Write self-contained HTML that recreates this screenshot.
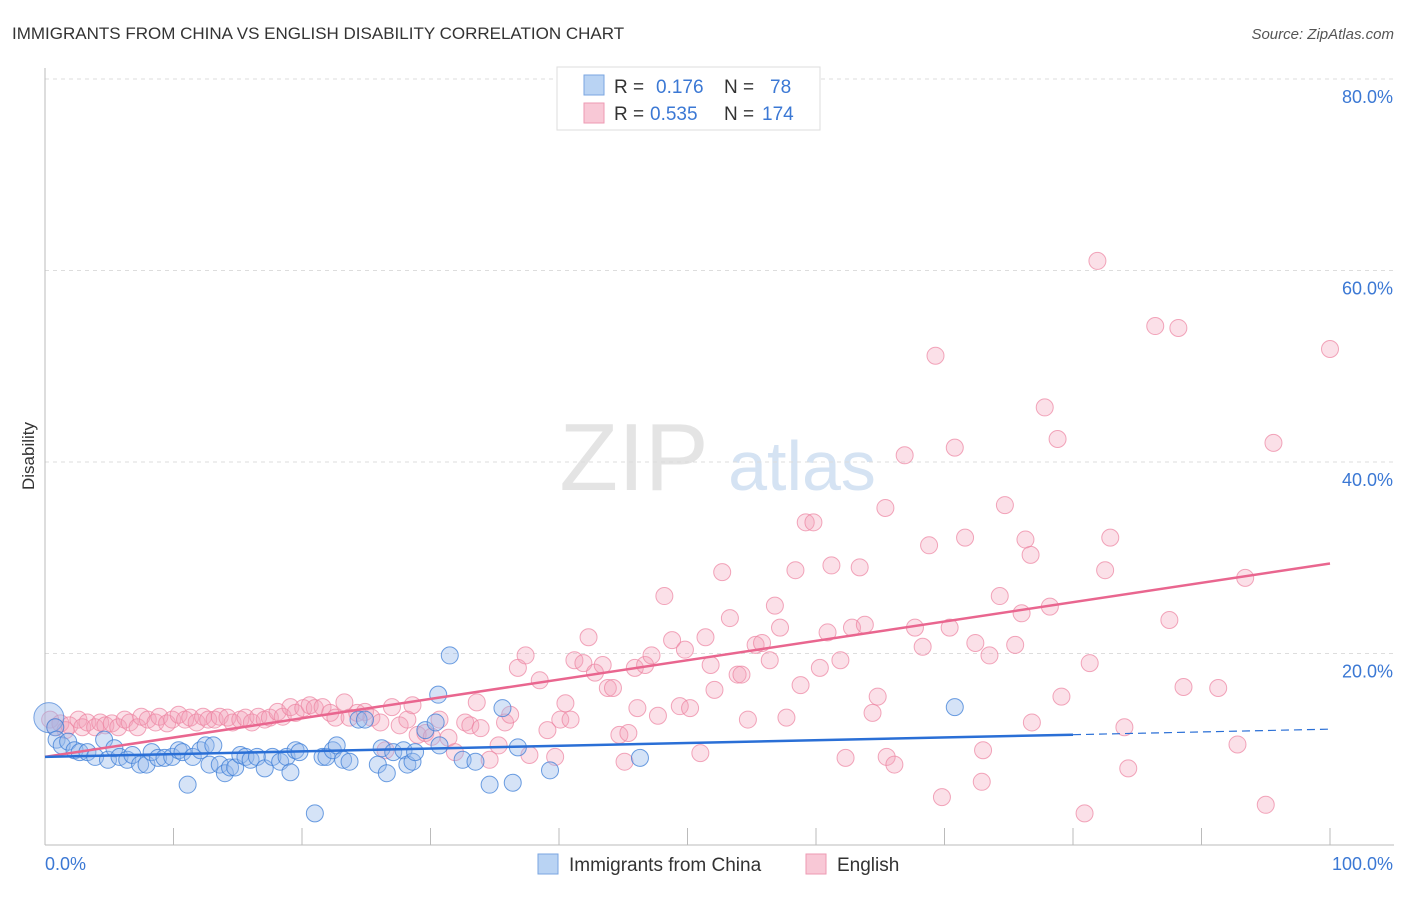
<!DOCTYPE html>
<html><head><meta charset="utf-8"><style>
body{margin:0;background:#fff;font-family:"Liberation Sans",sans-serif}
svg text{font-family:"Liberation Sans",sans-serif}
</style></head><body>
<svg width="1406" height="892" viewBox="0 0 1406 892" xmlns="http://www.w3.org/2000/svg" id="chart">
<text x="12" y="39" font-size="17" fill="#333">IMMIGRANTS FROM CHINA VS ENGLISH DISABILITY CORRELATION CHART</text>
<text x="1394" y="39" font-size="15" fill="#555" font-style="italic" text-anchor="end">Source: ZipAtlas.com</text>
<text x="634" y="490" font-size="96" fill="#e4e4e4" font-family="Liberation Serif" text-anchor="middle">ZIP</text>
<text x="802" y="490" font-size="70" fill="#d5e3f3" text-anchor="middle">atlas</text>
<text transform="translate(34,456) rotate(-90)" font-size="17" fill="#333" text-anchor="middle">Disability</text>
<g id="grid"></g><g id="pink"></g><g id="blue"></g><g id="lines"></g>
<text x="45" y="870" font-size="18" fill="#3b78d4">0.0%</text>
<text x="1393" y="870" font-size="18" fill="#3b78d4" text-anchor="end">100.0%</text>
<g>
<rect x="557" y="67" width="263" height="63" fill="#fff" stroke="#ddd"/>
<rect x="584" y="75" width="20" height="20" fill="#b9d3f3" stroke="#7aa6e0"/>
<rect x="584" y="103" width="20" height="20" fill="#f8c8d6" stroke="#ee9ab3"/>
<text x="614" y="93" font-size="19" fill="#333">R =</text><text x="656" y="93" font-size="19" fill="#3b78d4">0.176</text>
<text x="724" y="93" font-size="19" fill="#333">N =</text><text x="770" y="93" font-size="19" fill="#3b78d4">78</text>
<text x="614" y="120" font-size="19" fill="#333">R =</text><text x="650" y="120" font-size="19" fill="#3b78d4">0.535</text>
<text x="724" y="120" font-size="19" fill="#333">N =</text><text x="762" y="120" font-size="19" fill="#3b78d4">174</text>
</g>
<g>
<rect x="538" y="854" width="20" height="20" fill="#b9d3f3" stroke="#7aa6e0"/>
<text x="569" y="871" font-size="19" fill="#333">Immigrants from China</text>
<rect x="806" y="854" width="20" height="20" fill="#f8c8d6" stroke="#ee9ab3"/>
<text x="837" y="871" font-size="19" fill="#333">English</text>
</g>
</svg>
<script>
const yTicks=[20,40,60,80];
const yTickLabels=["20.0%","40.0%","60.0%","80.0%"];
const xTicks=[10,20,30,40,50,60,70,80,90,100];
const blueX=[0.8,0.9,1.3,1.8,2.3,2.7,3.3,3.9,4.6,4.9,5.4,5.8,6.4,6.8,7.4,7.9,8.3,8.8,9.3,9.9,10.4,10.7,11.1,11.5,12.1,12.5,12.8,13.1,13.6,14.0,14.4,14.8,15.2,15.6,16.0,16.5,17.1,17.7,18.3,18.8,19.1,19.5,19.8,21.0,21.6,21.9,22.4,22.7,23.2,23.7,24.4,24.9,25.9,26.2,26.6,27.1,27.9,28.2,28.6,28.8,29.6,30.4,30.6,30.7,31.5,32.5,33.5,34.6,35.6,36.4,36.8,39.3,46.3,70.8];
const blueY=[12.3,11.0,10.4,10.8,9.9,9.7,9.7,9.2,11.0,8.9,10.1,9.2,8.9,9.4,8.4,8.4,9.7,9.1,9.1,9.2,9.9,9.7,6.3,9.2,9.9,10.4,8.4,10.4,8.4,7.5,8.1,8.1,9.4,9.2,8.9,9.2,8.0,9.2,8.7,9.2,7.6,9.9,9.7,3.3,9.2,9.2,9.9,10.4,8.9,8.7,13.1,13.1,8.4,10.1,7.5,9.7,9.9,8.4,8.7,9.7,12.0,12.8,15.7,10.4,19.8,8.9,8.7,6.3,14.3,6.5,10.2,7.8,9.1,14.4];
const pinkX=[0.4,0.8,1.2,1.6,1.9,2.6,2.9,3.3,3.9,4.3,4.7,5.2,5.7,6.2,6.6,7.2,7.5,8.0,8.6,8.9,9.5,9.9,10.4,10.9,11.3,11.8,12.3,12.7,13.2,13.6,14.2,14.6,15.2,15.6,16.1,16.6,17.1,17.5,18.1,18.5,19.1,19.5,20.1,20.6,21.0,21.6,22.2,22.6,23.3,23.7,24.3,24.9,25.4,26.1,26.5,27.0,27.6,28.2,28.6,29.0,29.6,30.1,30.7,31.4,31.9,32.7,33.1,33.6,33.9,34.6,35.3,35.8,36.2,36.8,37.4,37.7,38.5,39.1,39.7,40.1,40.5,40.9,41.2,41.9,42.3,42.8,43.4,43.8,44.2,44.7,45.1,45.4,45.9,46.1,46.7,47.2,47.7,48.2,48.8,49.4,49.8,50.2,51.0,51.4,51.8,52.1,52.7,53.3,53.9,54.2,54.7,55.3,55.8,56.4,56.8,57.2,57.7,58.4,58.8,59.2,59.8,60.3,60.9,61.2,61.9,62.3,62.8,63.4,63.8,64.4,64.8,65.4,65.5,66.1,66.9,67.7,68.3,68.8,69.3,69.8,70.4,70.8,71.6,72.4,72.9,73.0,73.5,74.3,74.7,75.5,76.0,76.3,76.7,76.8,77.8,78.2,78.8,79.1,80.9,81.3,81.9,82.5,82.9,84.0,84.3,86.4,87.5,88.2,88.6,91.3,92.8,93.4,95.0,95.6,100];
const pinkY=[13.1,12.3,12.7,12.0,12.5,13.1,12.3,12.8,12.3,12.8,12.5,12.7,12.3,13.1,12.8,12.3,13.4,13.1,12.8,13.4,12.7,13.1,13.6,13.1,13.3,12.8,13.4,13.1,13.1,13.4,13.3,12.8,13.1,13.3,12.8,13.4,13.1,13.3,13.9,13.4,14.4,13.8,14.3,14.6,14.3,14.4,13.8,13.3,14.9,13.3,13.8,13.9,13.3,12.8,9.9,14.4,12.5,13.1,14.6,11.5,11.7,11.3,13.1,11.2,9.7,12.8,12.5,14.9,12.2,8.9,10.4,12.8,13.6,18.5,19.8,9.4,17.2,12.0,9.2,13.1,14.8,13.1,19.3,19.0,21.7,18.0,18.8,16.4,16.4,11.5,8.7,11.7,18.5,14.3,18.8,19.8,13.5,26.0,21.4,14.5,20.4,14.3,9.6,21.7,18.8,16.2,28.5,23.7,17.8,17.8,13.1,20.9,21.1,19.3,25.0,22.7,13.3,28.7,16.7,33.7,33.7,18.5,22.2,29.2,19.3,9.1,22.7,29.0,23.0,13.8,15.5,35.2,9.2,8.4,40.7,22.7,20.7,31.3,51.1,5.0,22.7,41.5,32.1,21.1,6.6,9.9,19.8,26.0,35.5,20.9,24.2,31.9,30.3,12.8,45.7,24.9,42.4,15.5,3.3,19.0,61.0,28.7,32.1,12.3,8.0,54.2,23.5,54.0,16.5,16.4,10.5,27.9,4.2,42.0,51.8];
const pinkTrend=[9.2,29.4];
const blueTrend=[9.2,12.1];
const X0=45,X1=1330,Y0=845,YPER=9.575;
const sx=v=>X0+(X1-X0)*v/100, sy=v=>Y0-v*YPER;
const NS="http://www.w3.org/2000/svg";
function mk(tag,attrs,parent){const e=document.createElementNS(NS,tag);for(const k in attrs)e.setAttribute(k,attrs[k]);parent.appendChild(e);return e;}
const grid=document.getElementById('grid');
yTicks.forEach((t,i)=>{
 const l=mk('line',{x1:X0,x2:1394,y1:sy(t),y2:sy(t),stroke:'#ddd','stroke-dasharray':'4,4'},grid);
 
 
 const tx=mk('text',{x:1393,y:sy(t)+24,'font-size':18,fill:'#3b78d4','text-anchor':'end'},grid);
 tx.textContent=yTickLabels[i];
 
 
});
const ax=mk('line',{x1:X0,x2:X0,y1:68,y2:Y0,stroke:'#bbb'},grid);


const bx=mk('line',{x1:X0,x2:1394,y1:Y0,y2:Y0,stroke:'#bbb'},grid);


xTicks.forEach(t=>{const l=mk('line',{x1:sx(t),x2:sx(t),y1:Y0-17,y2:Y0,stroke:'#bbb'},grid);
 
 });
const pg=document.getElementById('pink');
pinkX.forEach((x,i)=>{const c=mk('circle',{cx:sx(x),cy:sy(pinkY[i]),r:8.5,fill:'rgba(244,160,185,0.32)',stroke:'rgba(236,130,160,0.7)','stroke-width':1},pg);
 
 });
const bg=document.getElementById('blue');
const big=mk('circle',{cx:sx(0.3),cy:sy(13.3),r:15,fill:'rgba(150,185,235,0.45)',stroke:'rgba(70,130,215,0.7)'},bg);


blueX.forEach((x,i)=>{const c=mk('circle',{cx:sx(x),cy:sy(blueY[i]),r:8.5,fill:'rgba(150,185,235,0.4)',stroke:'rgba(60,125,215,0.75)','stroke-width':1},bg);
 
 });
const lg=document.getElementById('lines');
const pl=mk('line',{x1:sx(0),y1:sy(pinkTrend[0]),x2:sx(100),y2:sy(pinkTrend[1]),stroke:'#e9668f','stroke-width':2.5},lg);


const bAt=v=>blueTrend[0]+(blueTrend[1]-blueTrend[0])*v/100;
const bl=mk('line',{x1:sx(0),y1:sy(bAt(0)),x2:sx(80),y2:sy(bAt(80)),stroke:'#2a6fd6','stroke-width':2.5},lg);


const bd=mk('line',{x1:sx(80),y1:sy(bAt(80)),x2:sx(100),y2:sy(bAt(100)),stroke:'#2a6fd6','stroke-width':1.2,'stroke-dasharray':'8,5'},lg);


</script>
</body></html>
